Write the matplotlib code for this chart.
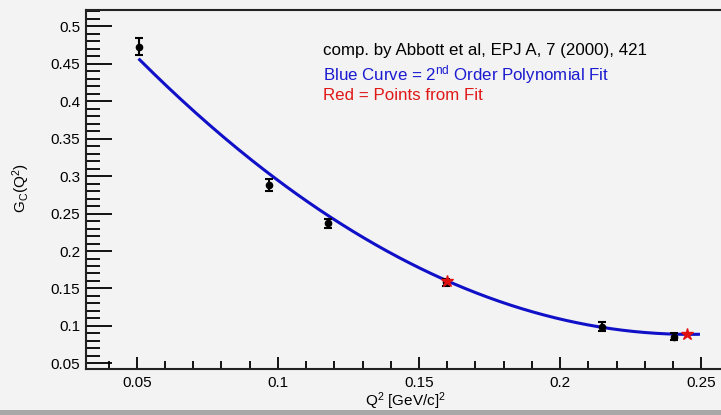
import numpy as np
import matplotlib
matplotlib.use("Agg")
import matplotlib.pyplot as plt
from matplotlib.ticker import MultipleLocator, FixedLocator

# Data
q2 = [0.0509, 0.097, 0.1177, 0.1595, 0.2147, 0.2403]
gc = [0.473, 0.288, 0.237, 0.158, 0.099, 0.0856]
gc_err = [0.011, 0.008, 0.006, 0.005, 0.006, 0.005]

fit_x = [0.16, 0.245]
fit_y = [0.160, 0.0887]

# 2nd order polynomial fit coefficients (c2, c1, c0)
poly_coeffs = [9.641, -4.745, 0.6725]
curve_range = [0.051, 0.249]

xticks = [0.05, 0.1, 0.15, 0.2, 0.25]
xtick_labels = ["0.05", "0.1", "0.15", "0.2", "0.25"]
yticks = [0.05, 0.1, 0.15, 0.2, 0.25, 0.3, 0.35, 0.4, 0.45, 0.5]
ytick_labels = ["0.05", "0.1", "0.15", "0.2", "0.25", "0.3", "0.35", "0.4", "0.45", "0.5"]

plt.rcParams['font.family'] = ['Liberation Sans', 'DejaVu Sans']
plt.rcParams['mathtext.fontset'] = 'custom'
plt.rcParams['mathtext.rm'] = 'Liberation Sans'
plt.rcParams['mathtext.it'] = 'Liberation Sans'

bg = '#f3f3f3'
fig = plt.figure(figsize=(7.21, 4.15), dpi=100, facecolor=bg)
ax = fig.add_axes([86/721, 46/415, (721-86)/721, 359/415], facecolor=bg)

xs = np.linspace(curve_range[0], curve_range[1], 200)
ax.plot(xs, np.polyval(poly_coeffs, xs), color='#1010c8', lw=2.2, zorder=2)

ax.errorbar(q2, gc, yerr=gc_err, fmt='o', color='black', ms=4.5,
            elinewidth=1.5, capsize=3, capthick=1.5, zorder=3)
ax.plot(fit_x, fit_y, '*', color='#e01010', ms=9, zorder=4)

ax.set_xlim(0.032, 0.257)
ax.set_ylim(0.0424, 0.522)

ax.xaxis.set_major_locator(FixedLocator(xticks))
ax.set_xticklabels(xtick_labels)
ax.yaxis.set_major_locator(FixedLocator(yticks))
ax.set_yticklabels(ytick_labels)
ax.xaxis.set_minor_locator(MultipleLocator(0.01))
ax.yaxis.set_minor_locator(MultipleLocator(0.01))

ax.tick_params(axis='y', which='major', direction='in', length=19, width=1.3,
               labelsize=11, pad=4)
ax.tick_params(axis='y', which='minor', direction='in', length=10, width=1.3)
ax.tick_params(axis='x', which='major', direction='in', length=9, width=1.3,
               labelsize=11, pad=5)
ax.tick_params(axis='x', which='minor', direction='in', length=6, width=1.3)

for s in ['left', 'bottom', 'top']:
    ax.spines[s].set_linewidth(1.5)
    ax.spines[s].set_color('#222222')
ax.spines['right'].set_visible(False)

fig.text(405/721, 1 - 401/415, r'Q$^{2}$ [GeV/c]$^{2}$', fontsize=11,
         ha='center', va='center')
fig.text(21/721, 1 - 188/415, r'G$_{C}$(Q$^{2}$)', fontsize=11,
         ha='center', va='center', rotation=90)

fs = 12.2
fig.text(323/721, 1 - 51/415, 'comp. by Abbott et al, EPJ A, 7 (2000), 421',
         color='black', fontsize=fs, va='center', ha='left')
fig.text(323/721, 1 - 75/415, r'Blue Curve = 2$^{nd}$ Order Polynomial Fit',
         color='#1a1ad0', fontsize=fs, va='center', ha='left')
fig.text(323/721, 1 - 96/415, 'Red = Points from Fit',
         color='#e01818', fontsize=fs, va='center', ha='left')

# bottom border band of the canvas
fig.patches.append(plt.Rectangle((0, 0), 1, 5/415, transform=fig.transFigure,
                                 facecolor='#a8a8a8', edgecolor='none'))

fig.savefig('out.png', dpi=100, facecolor=bg)
